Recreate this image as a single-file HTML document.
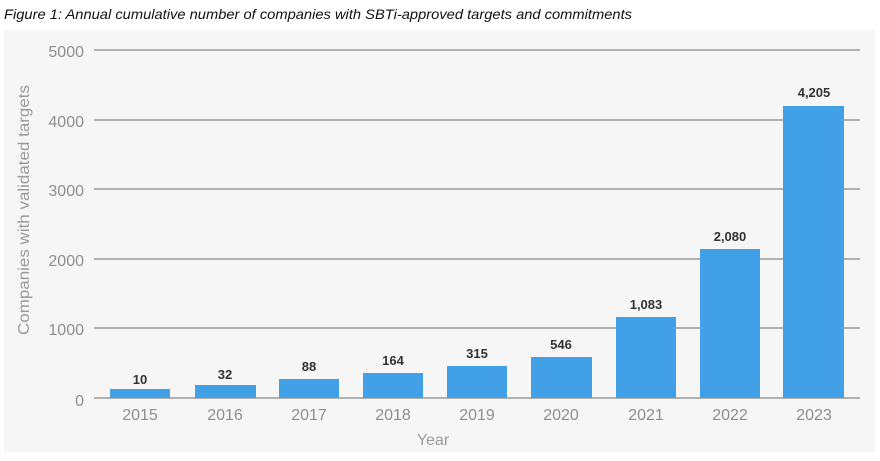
<!DOCTYPE html>
<html><head><meta charset="utf-8"><style>
body{margin:0;background:#fff;width:880px;height:456px;overflow:hidden}
</style></head><body>
<svg width="880" height="456" xmlns="http://www.w3.org/2000/svg" font-family="Liberation Sans, sans-serif">
<rect width="880" height="456" fill="#fff"/>
<text x="4" y="19" font-family="Liberation Sans, sans-serif" font-style="italic" font-size="14" fill="#111" textLength="628" lengthAdjust="spacingAndGlyphs">Figure 1: Annual cumulative number of companies with SBTi-approved targets and commitments</text>
<rect x="4" y="30" width="871" height="422" fill="#f6f6f6"/>
<g stroke="#9a9a9a" stroke-width="1.5">
<line x1="94" x2="860" y1="50" y2="50"/>
<line x1="94" x2="860" y1="120" y2="120"/>
<line x1="94" x2="860" y1="189" y2="189"/>
<line x1="94" x2="860" y1="259" y2="259"/>
<line x1="94" x2="860" y1="328" y2="328"/>
<line x1="94" x2="860" y1="398" y2="398"/>
</g>
<g fill="#8e8e8e" font-size="16" text-anchor="end">
<text x="84" y="57">5000</text>
<text x="84" y="127">4000</text>
<text x="84" y="196">3000</text>
<text x="84" y="266">2000</text>
<text x="84" y="335">1000</text>
<text x="84" y="406">0</text>
</g>
<text transform="translate(29,210) rotate(-90)" text-anchor="middle" fill="#9a9a9a" font-size="16" textLength="250" lengthAdjust="spacingAndGlyphs">Companies with validated targets</text>
<g fill="#42a0e6">
<rect x="110" y="389" width="60" height="9"/>
<rect x="195" y="385" width="61" height="13"/>
<rect x="279" y="379" width="60" height="19"/>
<rect x="363" y="373" width="60" height="25"/>
<rect x="447" y="366" width="60" height="32"/>
<rect x="531" y="357" width="61" height="41"/>
<rect x="616" y="317" width="60" height="81"/>
<rect x="700" y="249" width="60" height="149"/>
<rect x="783" y="106" width="61" height="292"/>
</g>
<g fill="#333" font-size="13" font-weight="bold" text-anchor="middle">
<text x="140" y="384">10</text>
<text x="225" y="379">32</text>
<text x="309" y="371">88</text>
<text x="393" y="365">164</text>
<text x="477" y="358">315</text>
<text x="561" y="349">546</text>
<text x="646" y="309">1,083</text>
<text x="730" y="241">2,080</text>
<text x="814" y="97">4,205</text>
</g>
<g fill="#8e8e8e" font-size="16" text-anchor="middle">
<text x="140" y="420">2015</text>
<text x="225" y="420">2016</text>
<text x="309" y="420">2017</text>
<text x="393" y="420">2018</text>
<text x="477" y="420">2019</text>
<text x="561" y="420">2020</text>
<text x="646" y="420">2021</text>
<text x="730" y="420">2022</text>
<text x="814" y="420">2023</text>
</g>
<text x="433" y="445" text-anchor="middle" fill="#9a9a9a" font-size="16">Year</text>
</svg>
</body></html>
